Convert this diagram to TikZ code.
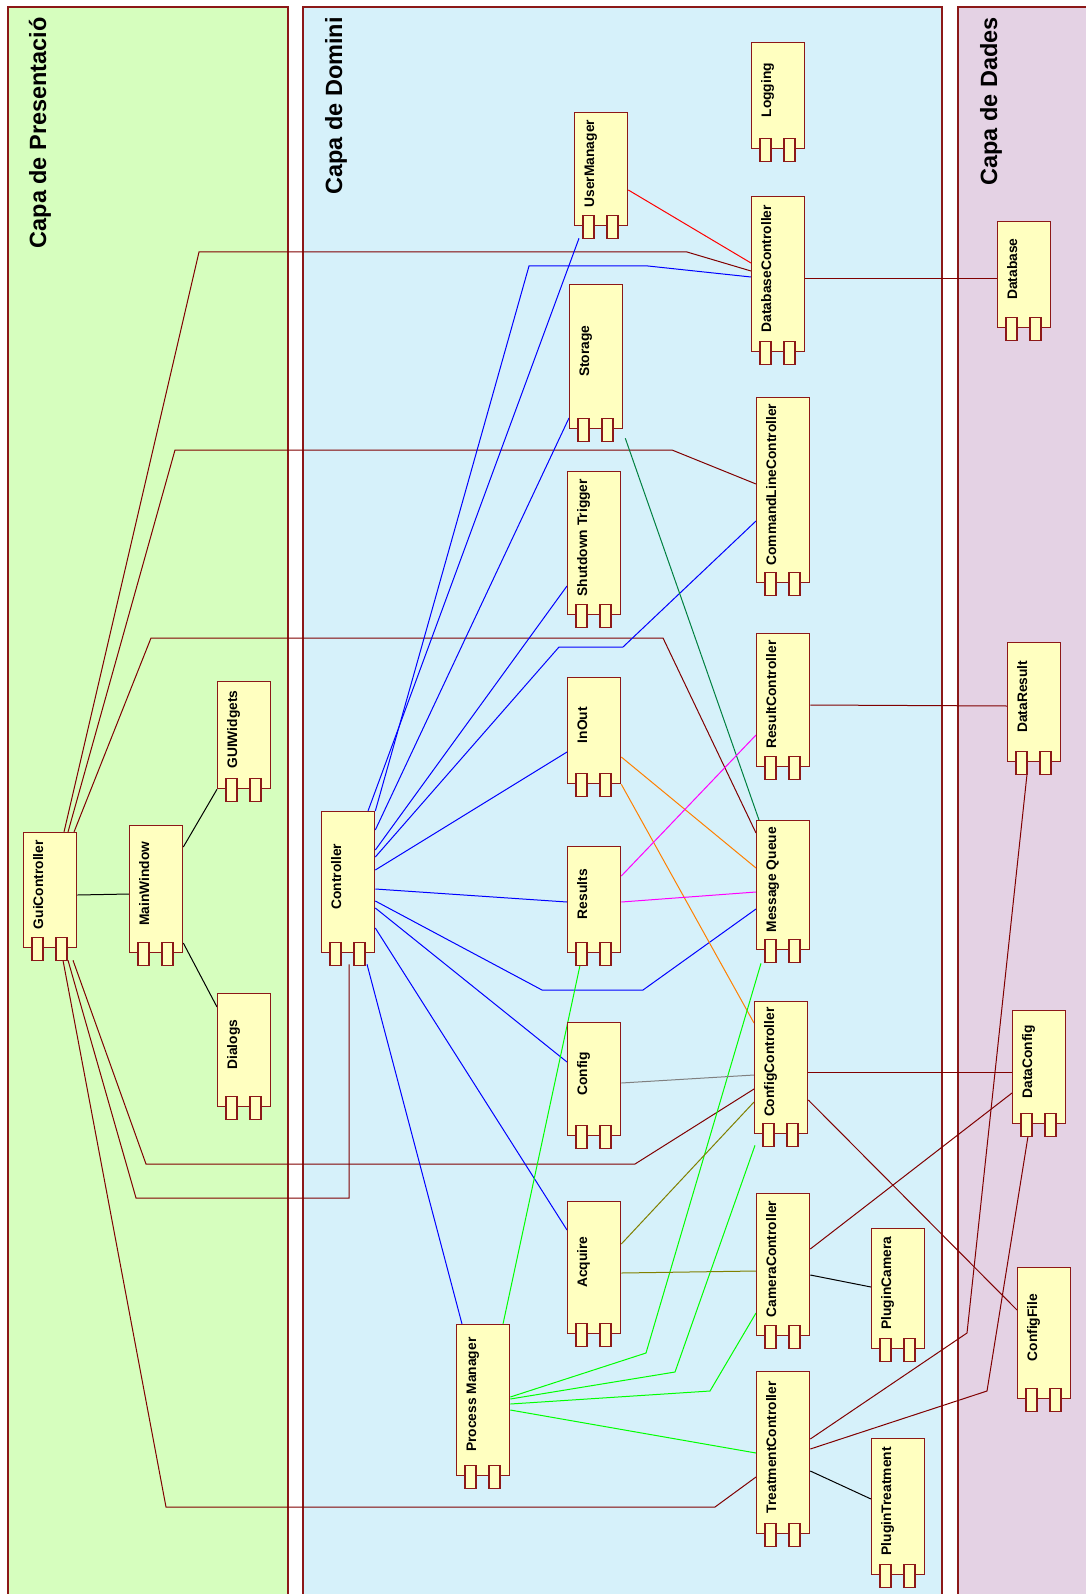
\documentclass[tikz,border=0pt]{standalone}
\usepackage{fontspec}
\setmainfont{Liberation Sans}
\usetikzlibrary{calc, backgrounds}
\definecolor{borderred}{RGB}{140,24,24}
\definecolor{linkred}{RGB}{128,0,0}
\definecolor{presgreen}{RGB}{214,254,190}
\definecolor{domblue}{RGB}{214,241,250}
\definecolor{datalilac}{RGB}{228,210,228}
\definecolor{compyellow}{RGB}{255,255,192}
\definecolor{olivelink}{RGB}{128,128,0}
\definecolor{teallink}{RGB}{0,128,64}
\definecolor{orangelink}{RGB}{255,128,0}
\definecolor{pinklink}{RGB}{255,0,255}
\pgfdeclarelayer{links}
\pgfsetlayers{background,links,main}

\begin{document}
\begin{tikzpicture}[
    x=1pt, y=-1pt,
    comp/.style={draw=borderred, line width=1.3pt, fill=compyellow, minimum width=53pt, inner sep=0pt, anchor=north west},
    port/.style={draw=borderred, line width=1.3pt, fill=compyellow},
    lbl/.style={rotate=90, anchor=base, inner sep=0pt, font=\fontsize{13.8}{16}\selectfont\bfseries},
    title/.style={rotate=90, anchor=base east, inner sep=0pt, font=\fontsize{23.5}{28}\selectfont\bfseries},
    frame/.style={draw=borderred, line width=1.3pt},
    link/.style={line width=1pt}
]
\useasboundingbox (0,0) rectangle (1086,1594);

% Layers
\begin{scope}[on background layer]
\fill[presgreen] (8,7) rectangle (288,1594);
\fill[domblue] (303,7) rectangle (942,1594);
\fill[datalilac] (958,7) rectangle (1086,1594);
\draw[frame] (8,1594) -- (8,7) -- (288,7) -- (288,1594);
\draw[frame] (303,1594) -- (303,7) -- (942,7) -- (942,1594);
\draw[frame] (958,1594) -- (958,7) -- (1086,7);
\end{scope}

\node[title] (tpres) at (46,17) {Capa de Presentació};
\node[title] (tdom) at (342,17) {Capa de Domini};
\node[title] (tdata) at (997,17) {Capa de Dades};

% Presentation components
\node[comp, minimum height=115pt] (gui) at (23,832) {};
\node[comp, minimum height=127pt] (mainwin) at (129,825) {};
\node[comp, minimum height=107pt] (widgets) at (217,681) {};
\node[comp, minimum height=113pt] (dialogs) at (217,993) {};

% Domain components
\node[comp, minimum height=141pt] (ctrl) at (321,811) {};
\node[comp, minimum height=113pt] (usermgr) at (574,112) {};
\node[comp, minimum height=106pt] (logging) at (751,42) {};
\node[comp, minimum height=155pt] (dbctrl) at (751,196) {};
\node[comp, minimum height=144pt] (storage) at (569,284) {};
\node[comp, minimum height=143pt] (shutdown) at (567,471) {};
\node[comp, minimum height=185pt] (cmdline) at (756,397) {};
\node[comp, minimum height=106pt] (inout) at (567,677) {};
\node[comp, minimum height=133pt] (resultctrl) at (756,633) {};
\node[comp, minimum height=106pt] (results) at (567,846) {};
\node[comp, minimum height=129pt] (mq) at (756,820) {};
\node[comp, minimum height=113pt] (config) at (567,1022) {};
\node[comp, minimum height=132pt] (cfgctrl) at (754,1001) {};
\node[comp, minimum height=132pt] (acquire) at (567,1201) {};
\node[comp, minimum height=142pt] (camctrl) at (756,1193) {};
\node[comp, minimum height=120pt] (plugincam) at (871,1228) {};
\node[comp, minimum height=151pt] (procmgr) at (456,1324) {};
\node[comp, minimum height=162pt] (treatctrl) at (756,1371) {};
\node[comp, minimum height=136pt] (plugintreat) at (871,1438) {};

% Data components
\node[comp, minimum height=106pt] (database) at (997,221) {};
\node[comp, minimum height=119pt] (dataresult) at (1007,642) {};
\node[comp, minimum height=113pt] (dataconfig) at (1012,1010) {};
\node[comp, minimum height=131pt] (configfile) at (1017,1267) {};

% ports and names
\foreach \n/\t in {gui/GuiController, mainwin/MainWindow, widgets/GUIWidgets, dialogs/Dialogs,
    ctrl/Controller, usermgr/UserManager, logging/Logging, dbctrl/DatabaseController,
    storage/Storage, shutdown/Shutdown Trigger, cmdline/CommandLineController, inout/InOut,
    resultctrl/ResultController, results/Results, mq/Message Queue, config/Config,
    cfgctrl/ConfigController, acquire/Acquire, camctrl/CameraController, plugincam/PluginCamera,
    procmgr/Process Manager, treatctrl/TreatmentController, plugintreat/PluginTreatment,
    database/Database, dataresult/DataResult, dataconfig/DataConfig, configfile/ConfigFile} {
  \draw[port] ($(\n.south west)+(9,-11)$) rectangle ++(11,23);
  \draw[port] ($(\n.south west)+(33,-11)$) rectangle ++(11,23);
  \node[lbl] at ($(\n.west)+(20,-5.5)$) {\t};
}

\begin{pgfonlayer}{links}
% gui side
\draw[link] (gui.east |- 0,895) -- (mainwin.west |- 0,894);
\draw[link] (mainwin.east |- 0,847) -- (widgets.south west);
\draw[link] (mainwin.east |- 0,943) -- (dialogs.west |- 0,1007);

\draw[link, linkred] (64,0 |- gui.north) -- (199,252) -- (687,252) -- (dbctrl.west |- 0,271);
\draw[link, linkred] (68,0 |- gui.north) -- (175,450) -- (672,450) -- (cmdline.west |- 0,484);
\draw[link, linkred] (74,0 |- gui.north) -- (151,638) -- (663,638) -- (mq.west |- 0,833);
\draw[link, linkred] ($(73,0 |- gui.south)+(0,12)$) -- (146,1164) -- (635,1164) -- (cfgctrl.west |- 0,1089);
\draw[link, linkred] ($(68,0 |- gui.south)+(0,12)$) -- (136,1198) -- (349,1198) -- ($(349,0 |- ctrl.south)+(0,11)$);
\draw[link, linkred] ($(63,0 |- gui.south)+(0,12)$) -- (166,1507) -- (715,1507) -- (treatctrl.west |- 0,1477);

% controller
\draw[link, blue] (368,0 |- ctrl.north) -- ($(579,0 |- usermgr.south)+(0,12)$);
\draw[link, blue] (ctrl.north east) -- (529,266) -- (648,266) -- (dbctrl.west |- 0,277);
\draw[link, blue] (ctrl.east |- 0,830) -- (storage.west |- 0,418);
\draw[link, blue] (ctrl.east |- 0,850) -- (shutdown.west |- 0,586);
\draw[link, blue] (ctrl.east |- 0,857) -- (559,647) -- (623,647) -- (cmdline.west |- 0,521);
\draw[link, blue] (ctrl.east |- 0,870) -- (inout.west |- 0,752);
\draw[link, blue] (ctrl.east |- 0,889) -- (results.west |- 0,902);
\draw[link, blue] (ctrl.east |- 0,901) -- (542,990) -- (643,990) -- (mq.west |- 0,909);
\draw[link, blue] (ctrl.east |- 0,908) -- (config.west |- 0,1062);
\draw[link, blue] (ctrl.east |- 0,928) -- (acquire.west |- 0,1230);
\draw[link, blue] ($(367,0 |- ctrl.south)+(0,11)$) -- (462,0 |- procmgr.north);

% domain
\draw[link, teallink] ($(storage.south east)+(2,9)$) -- (759,0 |- mq.north);
\draw[link, orangelink] (inout.east |- 0,757) -- (mq.west |- 0,868);
\draw[link, orangelink] (inout.south east) -- (cfgctrl.west |- 0,1023);
\draw[link, pinklink] (results.east |- 0,876) -- (resultctrl.west |- 0,735);
\draw[link, pinklink] (results.east |- 0,902) -- (mq.west |- 0,892);
\draw[link, green] ($(580,0 |- results.south)+(0,12)$) -- (503,0 |- procmgr.north);
\draw[link, green] (procmgr.east |- 0,1397) -- (646,1353) -- ($(761,0 |- mq.south)+(0,13)$);
\draw[link, green] (procmgr.east |- 0,1399) -- (675,1372) -- ($(755,0 |- cfgctrl.south)+(0,11)$);
\draw[link, green] (procmgr.east |- 0,1404) -- (710,1391) -- (camctrl.west |- 0,1313);
\draw[link, green] (procmgr.east |- 0,1410) -- (treatctrl.west |- 0,1453);
\draw[link, gray] (config.east |- 0,1083) -- (cfgctrl.west |- 0,1075);
\draw[link, olivelink] (acquire.east |- 0,1244) -- (cfgctrl.west |- 0,1102);
\draw[link, olivelink] (acquire.east |- 0,1273) -- (camctrl.west |- 0,1271);
\draw[link, red] (usermgr.east |- 0,190) -- (dbctrl.west |- 0,263);
\draw[link] (camctrl.east |- 0,1275) -- (plugincam.west |- 0,1287);
\draw[link] (treatctrl.east |- 0,1471) -- (plugintreat.west |- 0,1499);

% data
\draw[link, linkred] (dbctrl.east |- 0,279) -- (database.west |- 0,279);
\draw[link, linkred] (resultctrl.east |- 0,705) -- (dataresult.west |- 0,706);
\draw[link, linkred] (treatctrl.east |- 0,1439) -- (967,1333) -- ($(1027,0 |- dataresult.south)+(0,12)$);
\draw[link, linkred] (treatctrl.east |- 0,1449) -- (987,1391) -- ($(1028,0 |- dataconfig.south)+(0,12)$);
\draw[link, linkred] (camctrl.east |- 0,1249) -- (dataconfig.west |- 0,1093);
\draw[link, linkred] (cfgctrl.east |- 0,1072) -- (dataconfig.west |- 0,1072);
\draw[link, linkred] (cfgctrl.east |- 0,1100) -- (configfile.west |- 0,1310);
\end{pgfonlayer}

\end{tikzpicture}
\end{document}
